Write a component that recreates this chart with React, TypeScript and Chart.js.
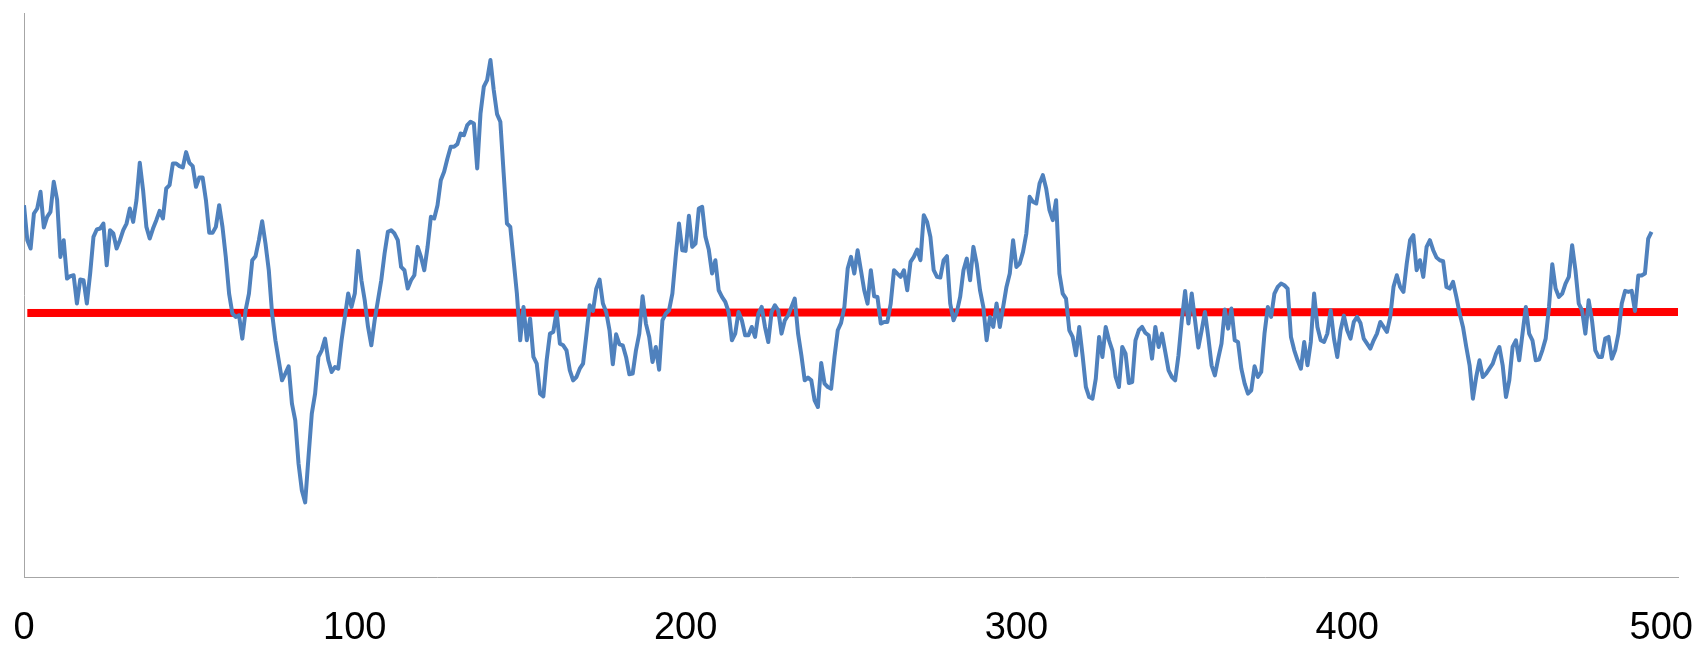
import { useEffect, useRef } from 'react';
import { Chart, registerables } from 'chart.js';

Chart.register(...registerables);

// Tick marks along the horizontal axis
const xTicks = [0, 100, 200, 300, 400, 500];

// Series values, observation 0 onwards (one value per step)
const values000 = [
  3.23, 2.18, 1.93, 2.98, 3.13, 3.63, 2.56, 2.88, 3.03, 3.93,
  3.40, 1.68, 2.18, 1.03, 1.10, 1.13, 0.28, 1.00, 0.98, 0.28,
  1.18, 2.28, 2.50, 2.53, 2.68, 1.43, 2.48, 2.38, 1.93, 2.18,
  2.48, 2.68, 3.13, 2.73, 3.38, 4.50, 3.68, 2.58, 2.23, 2.53,
  2.78, 3.06, 2.83, 3.73, 3.83, 4.48, 4.48, 4.40, 4.36, 4.82,
  4.50, 4.40, 3.78, 4.06, 4.06, 3.38, 2.40, 2.40, 2.58, 3.23,
  2.58, 1.68, 0.58, -0.02, -0.12, -0.07, -0.77, 0.08, 0.58, 1.58,
  1.70, 2.18, 2.75, 2.08, 1.28, -0.02, -0.82, -1.42, -2.02, -1.82,
  -1.60, -2.72, -3.22, -4.52, -5.32, -5.68, -4.32, -3.02, -2.42, -1.32,
  -1.12, -0.77, -1.42, -1.77, -1.62, -1.67, -0.82, -0.12, 0.58, 0.18,
];
const values100 = [
  0.58, 1.86, 0.98, 0.38, -0.42, -0.97, -0.22, 0.38, 0.98, 1.78,
  2.43, 2.48, 2.38, 2.18, 1.38, 1.28, 0.73, 0.98, 1.13, 1.98,
  1.68, 1.28, 1.98, 2.88, 2.83, 3.23, 3.98, 4.23, 4.63, 4.98,
  4.98, 5.06, 5.38, 5.33, 5.63, 5.73, 5.68, 4.33, 5.98, 6.78,
  6.98, 7.58, 6.68, 5.96, 5.73, 4.18, 2.68, 2.58, 1.58, 0.58,
  -0.82, 0.18, -0.82, -0.17, -1.32, -1.52, -2.42, -2.50, -1.42, -0.62,
  -0.57, 0.03, -0.92, -0.97, -1.12, -1.72, -2.02, -1.92, -1.67, -1.52,
  -0.67, 0.23, 0.06, 0.73, 1.00, 0.28, 0.03, -0.52, -1.54, -0.64,
  -0.94, -0.97, -1.32, -1.84, -1.82, -1.12, -0.62, 0.50, -0.32, -0.72,
  -1.47, -1.02, -1.70, -0.22, -0.02, 0.08, 0.58, 1.68, 2.68, 1.88,
];
const values200 = [
  1.86, 2.91, 1.98, 2.08, 3.13, 3.18, 2.28, 1.90, 1.18, 1.58,
  0.68, 0.48, 0.33, 0.03, -0.82, -0.62, 0.03, -0.22, -0.67, -0.67,
  -0.42, -0.72, -0.02, 0.18, -0.42, -0.87, 0.03, 0.23, 0.08, -0.62,
  -0.22, -0.07, 0.18, 0.43, -0.62, -1.27, -2.02, -1.94, -2.02, -2.62,
  -2.82, -1.50, -2.12, -2.22, -2.27, -1.32, -0.52, -0.30, 0.18, 1.33,
  1.68, 1.18, 1.88, 1.28, 0.68, 0.28, 1.28, 0.50, 0.48, -0.32,
  -0.27, -0.27, 0.28, 1.28, 1.18, 1.08, 1.28, 0.68, 1.53, 1.68,
  1.90, 1.58, 2.93, 2.73, 2.28, 1.28, 1.08, 1.06, 1.58, 1.70,
  0.28, -0.22, 0.03, 0.48, 1.28, 1.63, 0.98, 1.98, 1.48, 0.68,
  0.18, -0.82, -0.12, -0.42, 0.28, -0.42, 0.18, 0.78, 1.18, 2.18,
];
const values300 = [
  1.38, 1.48, 1.83, 2.38, 3.48, 3.33, 3.28, 3.88, 4.13, 3.73,
  3.08, 2.78, 3.38, 1.18, 0.58, 0.43, -0.52, -0.72, -1.27, -0.42,
  -1.27, -2.22, -2.52, -2.57, -1.97, -0.72, -1.32, -0.42, -0.82, -1.12,
  -1.92, -2.22, -1.02, -1.22, -2.10, -2.07, -0.82, -0.52, -0.42, -0.60,
  -0.67, -1.37, -0.42, -1.02, -0.62, -1.17, -1.72, -1.92, -2.02, -1.27,
  -0.22, 0.66, -0.32, 0.58, -0.22, -1.04, -0.52, 0.03, -0.72, -1.57,
  -1.87, -1.37, -0.92, 0.10, -0.47, 0.13, -0.82, -0.87, -1.67, -2.12,
  -2.42, -2.32, -1.60, -1.92, -1.77, -0.62, 0.18, -0.12, 0.58, 0.78,
  0.88, 0.83, 0.73, -0.72, -1.12, -1.42, -1.67, -0.87, -1.57, -0.87,
  0.58, -0.42, -0.82, -0.87, -0.62, 0.08, -0.77, -1.32, -0.52, -0.08,
];
const values400 = [
  -0.52, -0.77, -0.27, -0.12, -0.30, -0.77, -0.92, -1.07, -0.82, -0.62,
  -0.27, -0.42, -0.57, -0.12, 0.78, 1.13, 0.78, 0.63, 1.48, 2.18,
  2.33, 1.28, 1.58, 1.08, 1.98, 2.18, 1.88, 1.66, 1.58, 1.55,
  0.78, 0.73, 0.93, 0.48, -0.02, -0.42, -1.02, -1.57, -2.57, -1.92,
  -1.42, -1.92, -1.82, -1.67, -1.52, -1.22, -1.02, -1.57, -2.52, -2.02,
  -1.02, -0.82, -1.42, -0.62, 0.18, -0.62, -0.82, -1.42, -1.40, -1.12,
  -0.77, 0.18, 1.46, 0.73, 0.48, 0.58, 0.88, 1.08, 2.03, 1.28,
  0.28, 0.08, -0.62, 0.38, -0.22, -1.12, -1.32, -1.32, -0.77, -0.72,
  -1.37, -1.12, -0.62, 0.28, 0.66, 0.63, 0.66, 0.06, 1.12, 1.12,
  1.18, 2.23, 2.43,
];

// Straight trend line across the whole run
const trendX = [1, 500];
const trendY = [0.0, 0.03];

const Y_MIN = -7.915;
const Y_MAX = 8.99;

const LABEL_FONT = '38px "Liberation Sans", Arial, sans-serif';

// Draws the horizontal axis numbers, keeping the last one inside the canvas
const axisNumbers = {
  id: 'axisNumbers',
  afterDraw(chart: any) {
    const scale = chart.scales.x;
    const ctx = chart.ctx;
    ctx.save();
    ctx.font = LABEL_FONT;
    ctx.fillStyle = '#000000';
    ctx.textAlign = 'left';
    ctx.textBaseline = 'middle';
    const rightLimit = chart.width - 9;
    const y = scale.bottom + 52;
    for (const t of scale.ticks) {
      const text = String(t.value);
      const w = ctx.measureText(text).width;
      let left = scale.getPixelForValue(t.value) - w / 2;
      if (left + w > rightLimit) left = rightLimit - w;
      if (left < 8) left = 8;
      ctx.fillText(text, left, y);
    }
    ctx.restore();
  },
};

export default function App() {
  const canvasRef = useRef<HTMLCanvasElement>(null);

  useEffect(() => {
    const values = [...values000, ...values100, ...values200, ...values300, ...values400];
    const series = values.map((y, i) => ({ x: i, y }));
    const trend = trendX.map((x, i) => ({ x, y: trendY[i] }));

    const chart = new Chart(canvasRef.current as HTMLCanvasElement, {
      type: 'line',
      data: {
        datasets: [
          {
            label: 'Series',
            data: series,
            borderColor: '#4F81BD',
            borderWidth: 4,
            borderJoinStyle: 'round',
            pointRadius: 0,
            tension: 0,
            order: 0,
          },
          {
            label: 'Trend',
            data: trend,
            borderColor: '#FF0000',
            borderWidth: 8,
            borderCapStyle: 'butt',
            pointRadius: 0,
            tension: 0,
            order: 1,
          },
        ],
      },
      options: {
        animation: false,
        responsive: true,
        maintainAspectRatio: false,
        layout: { padding: { left: 24, right: 24, top: 13, bottom: 73 } },
        plugins: {
          legend: { display: false },
          tooltip: { enabled: false },
        },
        scales: {
          x: {
            type: 'linear',
            min: 0,
            max: 500,
            afterBuildTicks: (s: any) => {
              s.ticks = xTicks.map((v) => ({ value: v }));
            },
            ticks: { display: false },
            grid: { display: false, drawTicks: false },
            border: { display: true, color: '#a6a6a6', width: 1 },
          },
          y: {
            type: 'linear',
            min: Y_MIN,
            max: Y_MAX,
            ticks: { display: false },
            grid: { display: false, drawTicks: false },
            border: { display: true, color: '#a6a6a6', width: 1 },
          },
        },
      },
      plugins: [axisNumbers],
    });

    return () => chart.destroy();
  }, []);

  return (
    <div
      style={{
        position: 'fixed',
        left: 0,
        top: 0,
        width: 1702,
        height: 650,
        background: '#ffffff',
      }}
    >
      <canvas ref={canvasRef} />
    </div>
  );
}
